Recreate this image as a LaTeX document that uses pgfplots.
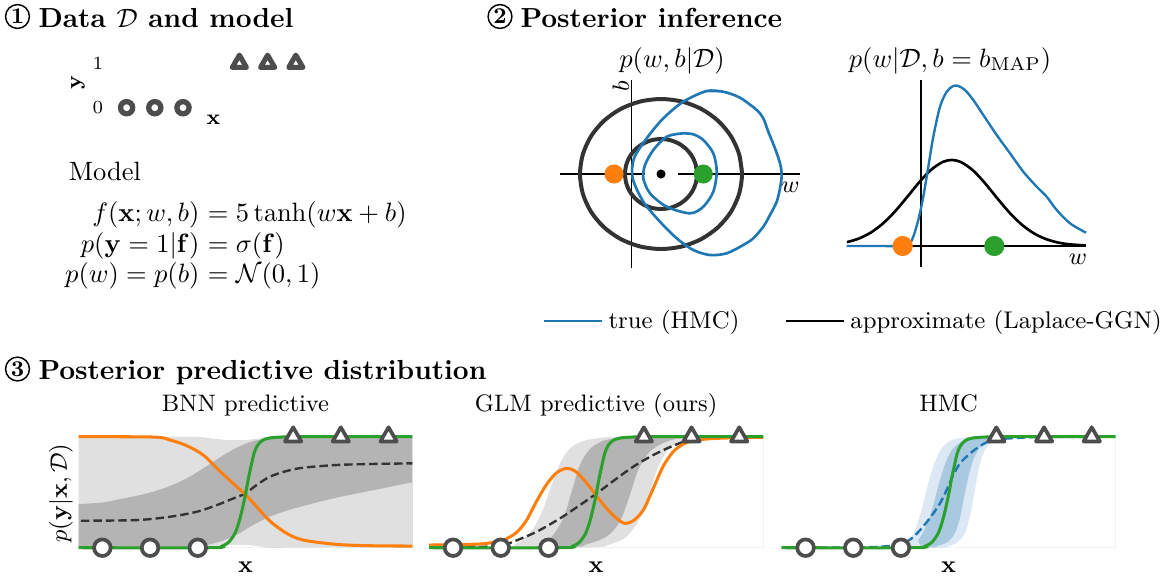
\documentclass[border=0pt]{standalone}
\usepackage{pgfplots}
\usepackage{pgfplotstable}
\pgfplotsset{compat=1.18}
\usepackage{amsmath}
\definecolor{cblue}{HTML}{1F77B4}
\definecolor{corange}{HTML}{FF7F0E}
\definecolor{cgreen}{HTML}{2CA02C}
\definecolor{mkgray}{HTML}{4D4D4D}
\definecolor{cont}{HTML}{333333}
\definecolor{lgray}{HTML}{E0E0E0}
\definecolor{dgray}{HTML}{B4B4B4}
\definecolor{lblue}{HTML}{DCE8F3}
\definecolor{dblue}{HTML}{A9C9E1}

% ---------- panel 3 data ----------
\pgfplotstableread{
x y
-3.5 0
-0.75 0
-0.5 0.013
-0.35 0.05
-0.22 0.13
-0.13 0.24
-0.06 0.36
0.0 0.48
0.06 0.62
0.12 0.74
0.18 0.85
0.25 0.92
0.35 0.965
0.5 0.988
0.8 0.998
1.2 1.0
3.5 1.0
}\greentab
% BNN
\pgfplotstableread{
x y
-3.5 1.0
-1.93 0.997
-1.58 0.97
-1.23 0.919
-0.885 0.835
-0.535 0.69
-0.185 0.55
0.0 0.48
0.234 0.37
0.514 0.24
0.863 0.13
1.212 0.069
1.911 0.03
2.61 0.018
3.5 0.015
}\bnnorange
\pgfplotstableread{
x y
-3.45 0.243
-2.28 0.249
-1.58 0.279
-1.02 0.324
-0.6 0.384
-0.255 0.444
0.0 0.489
0.234 0.565
0.514 0.64
0.863 0.691
1.212 0.721
1.911 0.745
2.61 0.754
3.5 0.76
}\bnnmean
\pgfplotstableread{
x y
-3.5 0.393
-2.98 0.408
-2.63 0.438
-2.28 0.468
-1.93 0.505
-1.58 0.556
-1.23 0.625
-0.884 0.715
-0.535 0.814
-0.185 0.901
0.164 0.961
0.514 0.985
0.863 0.994
1.212 1.0
3.5 1.0
}\bnndu
\pgfplotstableread{
x y
-3.5 0
-1.2 0
-0.884 0.018
-0.535 0.054
-0.185 0.114
0.164 0.204
0.514 0.279
0.863 0.333
1.212 0.375
1.911 0.45
2.61 0.511
3.5 0.589
}\bnndl
\pgfplotstableread{
x y
-3.5 1
-1.2 1
-0.8 0.99
-0.4 0.97
0.0 0.97
0.3 0.985
0.7 1.0
3.5 1
}\bnnlu
\pgfplotstableread{
x y
-3.5 0
-1.0 0
-0.6 0.012
-0.3 0.025
0.0 0.025
0.3 0.012
0.7 0
3.5 0
}\bnnll
% GLM
\pgfplotstableread{
x y
-3.5 0.024
-2.645 0.03
-2.296 0.039
-1.946 0.069
-1.667 0.138
-1.457 0.249
-1.248 0.42
-1.038 0.571
-0.829 0.676
-0.619 0.715
-0.444 0.691
-0.27 0.619
-0.095 0.526
0.01 0.465
0.219 0.354
0.429 0.264
0.604 0.219
0.779 0.243
0.988 0.339
1.198 0.535
1.408 0.736
1.617 0.865
1.827 0.934
2.037 0.964
2.386 0.982
2.945 0.991
3.5 0.994
}\glmorange
\pgfplotstableread{
x y
-3.5 0.0
-2.645 0.003
-1.995 0.02
-1.737 0.054
-1.248 0.144
-0.759 0.264
-0.34 0.384
0.01 0.489
0.359 0.601
0.778 0.73
1.198 0.835
1.617 0.919
1.966 0.97
2.386 0.991
3.5 1.0
}\glmmean
\pgfplotstableread{
x y
-3.5 0
-1.947 0.006
-1.597 0.054
-1.318 0.174
-1.108 0.354
-0.934 0.565
-0.759 0.76
-0.549 0.895
-0.27 0.961
0.08 0.988
0.499 0.997
3.5 1.0
}\glmlu
\pgfplotstableread{
x y
-3.5 0
-1.388 0.006
-0.969 0.084
-0.689 0.264
-0.514 0.505
-0.34 0.745
-0.13 0.889
0.15 0.964
0.499 0.988
0.919 0.997
3.5 1.0
}\glmdu
\pgfplotstableread{
x y
-3.5 0
-0.619 0.003
-0.2 0.03
0.219 0.099
0.499 0.234
0.709 0.474
0.884 0.7
1.128 0.865
1.477 0.955
1.897 0.988
3.5 0.997
}\glmdl
\pgfplotstableread{
x y
-3.5 0
-0.2 0.003
0.289 0.03
0.639 0.099
0.919 0.264
1.128 0.505
1.303 0.73
1.513 0.88
1.827 0.964
2.246 0.988
3.5 0.997
}\glmll
% HMC
\pgfplotstableread{
x y
-3.5 0
-1.895 0.003
-1.335 0.012
-0.986 0.036
-0.776 0.084
-0.567 0.174
-0.357 0.288
-0.182 0.399
-0.043 0.52
0.097 0.655
0.237 0.76
0.412 0.835
0.586 0.895
0.796 0.949
1.041 0.976
1.39 0.988
1.949 0.997
3.5 1.0
}\hmcmean
\pgfplotstableread{
x y
-3.5 0
-0.986 0.003
-0.846 0.048
-0.706 0.159
-0.567 0.339
-0.427 0.58
-0.287 0.775
-0.147 0.895
0.027 0.961
0.307 0.991
0.691 1.0
3.5 1.0
}\hmclu
\pgfplotstableread{
x y
-3.5 0
-0.811 0.003
-0.637 0.069
-0.462 0.204
-0.322 0.384
-0.182 0.61
-0.043 0.79
0.097 0.895
0.272 0.955
0.551 0.988
0.901 0.997
3.5 1.0
}\hmcdu
\pgfplotstableread{
x y
-3.5 0
-0.567 0
-0.217 0.018
-0.008 0.054
0.132 0.129
0.237 0.264
0.328 0.459
0.426 0.655
0.531 0.805
0.656 0.901
0.831 0.961
1.11 0.991
3.5 0.997
}\hmcdl
\pgfplotstableread{
x y
-3.5 0
-0.357 0
-0.008 0.012
0.202 0.054
0.356 0.144
0.468 0.324
0.551 0.52
0.635 0.715
0.747 0.865
0.901 0.949
1.18 0.985
3.5 0.997
}\hmcll

\pgfplotsset{
  p3/.style={anchor=south west, scale only axis, width=126pt, height=41.887pt,
    xmin=-3.5, xmax=3.5, ymin=0, ymax=1, clip=false,
    axis line style={draw=none}, xtick=\empty, ytick=\empty,
    xlabel={$\mathbf{x}$},
    xlabel style={at={(axis description cs:0.5,-0.171)}, anchor=center, font=\fontsize{9}{10}\selectfont},
    title style={at={(axis description cs:0.5,1.082)}, anchor=base, font=\fontsize{9}{11}\selectfont}},
  mkc/.style={only marks, mark=*, mark size=3.13pt, mark options={draw=mkgray, fill=white, line width=1.4pt}},
  mkt/.style={only marks, mark=triangle*, mark size=3.55pt, mark options={draw=mkgray, fill=white, line width=1.4pt, line join=round}},
  mycurve/.style={smooth, line width=1.15pt},
  mymean/.style={smooth, line width=0.9pt, dash pattern=on 3.2pt off 1.5pt},
  band/.style={smooth, draw=none, fill=#1},
}

\begin{document}
\begin{tikzpicture}
\path[use as bounding box] (0,0) rectangle (437.736pt,-217.358pt);

\begin{scope}[x=0.377358pt,y=-0.377358pt]
% titles
\node[circle, draw, line width=0.55pt, inner sep=0pt, minimum size=9pt, font=\fontsize{8.5}{10}\selectfont\bfseries] at (17.5,16.5) {1};
\node[anchor=base west, inner sep=0pt, font=\fontsize{10.4}{12}\selectfont\bfseries] at (38,27) {Data $\mathcal{D}$ and model};
\node[circle, draw, line width=0.55pt, inner sep=0pt, minimum size=9pt, font=\fontsize{8.5}{10}\selectfont\bfseries] at (500,16.5) {2};
\node[anchor=base west, inner sep=0pt, font=\fontsize{10.4}{12}\selectfont\bfseries] at (520,27) {Posterior inference};
\node[circle, draw, line width=0.55pt, inner sep=0pt, minimum size=9pt, font=\fontsize{8.5}{10}\selectfont\bfseries] at (17.5,369) {3};
\node[anchor=base west, inner sep=0pt, font=\fontsize{10.4}{12}\selectfont\bfseries] at (38,379) {Posterior predictive distribution};
% model
\node[anchor=base west, inner sep=0pt] at (68.3,180) {Model};
\node[anchor=base east, inner sep=0pt] at (200,221) {$f(\mathbf{x};w,b)$};
\node[anchor=base west, inner sep=0pt] at (200,221) {${}=5\tanh(w\mathbf{x}+b)$};
\node[anchor=base east, inner sep=0pt] at (200,252) {$p(\mathbf{y}=1|\mathbf{f})$};
\node[anchor=base west, inner sep=0pt] at (200,252) {${}=\sigma(\mathbf{f})$};
\node[anchor=base east, inner sep=0pt] at (200,282) {$p(w)=p(b)$};
\node[anchor=base west, inner sep=0pt] at (200,282) {${}=\mathcal{N}(0,1)$};
% panel 2 labels
\node[anchor=base, inner sep=0pt, font=\fontsize{10.3}{12}\selectfont] at (672,67) {$p(w,b|\mathcal{D})$};
\node[anchor=base, inner sep=0pt, font=\fontsize{10.3}{12}\selectfont] at (950,67) {$p(w|\mathcal{D},b=b_{\mathrm{MAP}})$};
\end{scope}

% ---------- panel 1: data ----------
\begin{axis}[at={(42.453pt,-40.642pt)}, anchor=south west, scale only axis,
  width=74.491pt, height=16.755pt, xmin=-3.5, xmax=3.5, ymin=0, ymax=1, clip=false,
  axis line style={draw=none}, xtick=\empty, ytick={0,1}, major tick length=0pt,
  yticklabel style={font=\fontsize{7.5}{9}\selectfont},
  xlabel={$\mathbf{x}$}, ylabel={$\mathbf{y}$},
  xlabel style={at={(axis description cs:0.511,-0.277)}, anchor=center, font=\fontsize{8}{9}\selectfont},
  ylabel style={at={(axis description cs:-0.175,0.563)}, anchor=center, font=\fontsize{8}{9}\selectfont}]
\addplot[only marks, mark=*, mark size=2.3pt, mark options={draw=mkgray, fill=white, line width=2pt}] coordinates {(-3,0) (-2,0) (-1,0)};
\addplot[only marks, mark=triangle*, mark size=3.1pt, mark options={draw=mkgray, fill=white, line width=1.9pt, line join=round}] coordinates {(1,1) (2,1) (3,1)};
\end{axis}

% ---------- panel 2: contours ----------
\begin{axis}[at={(207.547pt,-28.302pt)}, anchor=north west, scale only axis,
  width=98.113pt, height=77.358pt, xmin=550, xmax=810, ymin=75, ymax=280,
  y dir=reverse, hide axis, clip=false]
\addplot[black, line width=0.5pt] coordinates {(631.7,80) (631.7,268)};
\addplot[black, line width=0.5pt] coordinates {(560,174) (645,174)};
\addplot[black, line width=0.5pt] coordinates {(678,174) (800,174)};
\addplot[cont, line width=1.5pt, smooth] coordinates {(742,174) (739.24,154.59) (731.15,136.5) (718.28,120.97) (701.5,109.05) (681.96,101.56) (661,99) (640.04,101.56) (620.5,109.05) (603.72,120.97) (590.85,136.5) (582.76,154.59) (580,174) (582.76,193.41) (590.85,211.5) (603.72,227.03) (620.5,238.95) (640.04,246.44) (661,249) (681.96,246.44) (701.5,238.95) (718.28,227.03) (731.15,211.5) (739.24,193.41) (742,174) (739.24,154.59)};
\addplot[cont, line width=1.5pt, smooth] coordinates {(697,174) (695.77,164.94) (692.18,156.5) (686.46,149.25) (679,143.69) (670.32,140.19) (661,139) (651.68,140.19) (643,143.69) (635.54,149.25) (629.82,156.5) (626.23,164.94) (625,174) (626.23,183.06) (629.82,191.5) (635.54,198.75) (643,204.31) (651.68,207.81) (661,209) (670.32,207.81) (679,204.31) (686.46,198.75) (692.18,191.5) (695.77,183.06) (697,174) (695.77,164.94)};
\addplot[cblue, line width=1pt, smooth] coordinates {(706.7,91) (723.3,91.7) (740,97.7) (756.7,110) (763.3,118.3) (768.3,131.7) (775,148.3) (780,163.3) (781.7,175) (780,188.3) (776.7,201.7) (770,215) (763.3,226.7) (753.3,238.3) (743.3,245) (726.7,253.3) (710,255) (693.3,250) (676.7,238.3) (660,221.7) (643.3,201.7) (632.7,178.3) (634,158.3) (646.7,138.3) (663.3,118.3) (683.3,101.7) (706.7,91) (723.3,91.7)};
\addplot[cblue, line width=1pt, smooth] coordinates {(683.3,133.3) (693.3,134.3) (703.3,140) (713.3,153.3) (716.7,171.7) (713.3,191.7) (703.3,206.7) (690,213.3) (666.7,206.7) (650,193.3) (643.3,178.3) (645,165) (653.3,150) (666.7,136.7) (683.3,133.3) (693.3,134.3)};
\addplot[only marks, mark=*, mark size=3.4pt, color=corange] coordinates {(614,174)};
\addplot[only marks, mark=*, mark size=3.4pt, color=cgreen] coordinates {(703.3,174)};
\addplot[only marks, mark=*, mark size=1.5pt, color=black] coordinates {(661,174)};
\node[rotate=90, font=\fontsize{9}{10}\selectfont] at (axis cs:620.8,86.7) {$b$};
\node[font=\fontsize{9}{10}\selectfont] at (axis cs:790.5,187.5) {$w$};
\end{axis}

% ---------- panel 2: densities ----------
\begin{axis}[at={(316.981pt,-26.415pt)}, anchor=north west, scale only axis,
  width=96.226pt, height=77.358pt, xmin=840, xmax=1095, ymin=70, ymax=275,
  y dir=reverse, hide axis, clip=false,
  legend style={at={(axis cs:542,321)}, anchor=west, draw=none, fill=none, inner sep=0pt,
    font=\fontsize{9.1}{11}\selectfont, /tikz/every even column/.append style={column sep=15pt}},
  legend columns=2, legend cell align=left,
  legend image code/.code={\draw[#1] (0pt,0pt) -- (21.9pt,0pt);}]
\addlegendimage{cblue, line width=1pt}
\addlegendentry{true (HMC)}
\addlegendimage{black, line width=1pt}
\addlegendentry{approximate (Laplace-GGN)}
\addplot[forget plot, black, line width=0.5pt] coordinates {(921,80) (921,267)};
\addplot[forget plot, black, line width=0.5pt] coordinates {(847,246) (1086,246)};
\addplot[forget plot, black, line width=1pt, smooth] coordinates {(847,242.15) (859,238.48) (871,232.42) (883,223.43) (895,211.43) (907,197.19) (919,182.49) (931,169.84) (943,161.82) (952,160) (961,162.08) (973,170.38) (985,183.19) (997,197.93) (1009,212.09) (1021,223.95) (1033,232.8) (1045,238.71) (1057,242.29) (1069,244.26) (1086,245.48)};
\addplot[forget plot, cblue, line width=0.9pt, smooth] coordinates {(846.7,246) (880,246) (905,246) (910,243) (913.3,236.7) (918.3,220) (923.3,196.7) (928.3,166.7) (933.3,136.7) (940,106.7) (946.7,91.7) (953.3,86) (958.3,86) (965,90) (973.3,100) (983.3,115) (996.7,135) (1010,153.3) (1023.3,171.7) (1036.7,186.7) (1046.7,196.7) (1056.7,210) (1070,223.3) (1086,232.7)};
\addplot[forget plot, only marks, mark=*, mark size=3.6pt, color=corange] coordinates {(902.7,246)};
\addplot[forget plot, only marks, mark=*, mark size=3.6pt, color=cgreen] coordinates {(994.3,246)};
\node[font=\fontsize{9}{10}\selectfont] at (axis cs:1078,259) {$w$};
\end{axis}

% ---------- panel 3: BNN ----------
\begin{axis}[p3, at={(29.623pt,-206.679pt)}, title={BNN predictive},
  ylabel={$p(\mathbf{y}|\mathbf{x},\mathcal{D})$},
  ylabel style={at={(axis description cs:-0.0524,0.493)}, anchor=center, font=\fontsize{9}{10}\selectfont}]
\addplot[band=lgray] table {\bnnlu} \closedcycle;
\addplot[band=dgray] table {\bnndu} \closedcycle;
\addplot[band=lgray] table {\bnndl} \closedcycle;
\addplot[band=white] table {\bnnll} \closedcycle;
\addplot[mymean, cont] table {\bnnmean};
\addplot[mycurve, corange] table {\bnnorange};
\addplot[mycurve, cgreen] table {\greentab};
\addplot[mkc] coordinates {(-3,0) (-2,0) (-1,0)};
\addplot[mkt] coordinates {(1,1) (2,1) (3,1)};
\end{axis}

% ---------- panel 3: GLM ----------
\begin{axis}[p3, at={(161.962pt,-206.679pt)}, title={GLM predictive (ours)}]
\addplot[band=lgray] table {\glmlu} \closedcycle;
\addplot[band=dgray] table {\glmdu} \closedcycle;
\addplot[band=lgray] table {\glmdl} \closedcycle;
\addplot[band=white] table {\glmll} \closedcycle;
\addplot[mymean, cont] table {\glmmean};
\addplot[mycurve, corange] table {\glmorange};
\addplot[mycurve, cgreen] table {\greentab};
\addplot[mkc] coordinates {(-3,0) (-2,0) (-1,0)};
\addplot[mkt] coordinates {(1,1) (2,1) (3,1)};
\end{axis}

% ---------- panel 3: HMC ----------
\begin{axis}[p3, at={(294.981pt,-206.679pt)}, title={HMC}]
\addplot[band=lblue] table {\hmclu} \closedcycle;
\addplot[band=dblue] table {\hmcdu} \closedcycle;
\addplot[band=lblue] table {\hmcdl} \closedcycle;
\addplot[band=white] table {\hmcll} \closedcycle;
\addplot[mymean, cblue] table {\hmcmean};
\addplot[mycurve, cgreen] table {\greentab};
\addplot[mkc] coordinates {(-3,0) (-2,0) (-1,0)};
\addplot[mkt] coordinates {(1,1) (2,1) (3,1)};
\end{axis}
\end{tikzpicture}
\end{document}
